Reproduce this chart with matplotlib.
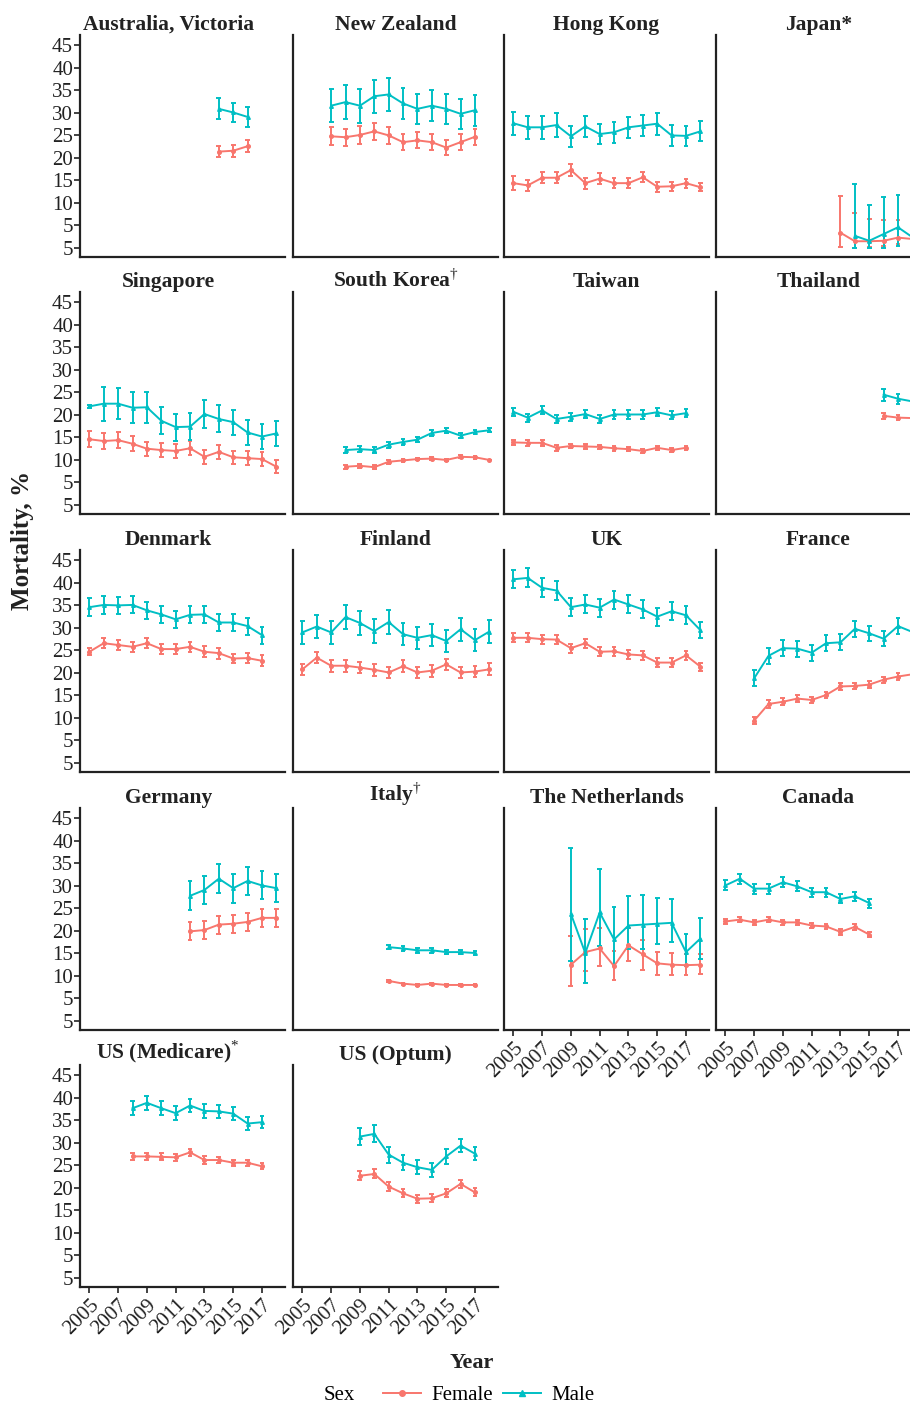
import matplotlib
matplotlib.use('Agg')
import matplotlib.pyplot as plt
from matplotlib.lines import Line2D
from matplotlib.offsetbox import HPacker

plt.rcParams['font.family'] = ['Liberation Serif', 'DejaVu Serif']
plt.rcParams['mathtext.fontset'] = 'custom'
plt.rcParams['mathtext.rm'] = 'Liberation Serif'
plt.rcParams['mathtext.bf'] = 'Liberation Serif:bold'

FEMALE = '#F8766D'
MALE = '#00BFC4'
INK = '#222222'

# ---- data: mortality (%) by year, value and half-width of the error bar ----
aus_start = 2014
aus_f = [21.4, 21.6, 22.6]
aus_f_err = [1.3, 1.3, 1.3]
aus_m = [30.9, 30.1, 29.1]
aus_m_err = [2.3, 2.2, 2.2]

nz_start = 2007
nz_f = [24.8, 24.6, 25.1, 25.9, 25.0, 23.5, 23.9, 23.5, 22.3, 23.5, 24.7]
nz_f_err = [2.0, 1.9, 2.0, 1.9, 1.9, 1.8, 1.8, 1.8, 1.7, 1.8, 1.8]
nz_m = [31.6, 32.4, 31.6, 33.7, 34.1, 32.1, 30.9, 31.6, 30.9, 29.8, 30.6]
nz_m_err = [3.7, 3.8, 3.8, 3.7, 3.6, 3.5, 3.4, 3.5, 3.4, 3.3, 3.4]

hk_start = 2005
hk_f = [14.4, 13.9, 15.6, 15.6, 17.3, 14.4, 15.4, 14.4, 14.4, 15.7, 13.6, 13.7, 14.4, 13.5]
hk_f_err = [1.5, 1.2, 1.2, 1.2, 1.3, 1.2, 1.2, 1.1, 1.1, 1.1, 1.1, 1.0, 1.0, 0.9]
hk_m = [27.7, 26.8, 26.8, 27.3, 24.8, 27.0, 25.3, 25.7, 26.8, 27.2, 27.6, 25.0, 24.9, 25.9]
hk_m_err = [2.6, 2.6, 2.5, 2.6, 2.3, 2.3, 2.3, 2.3, 2.3, 2.3, 2.4, 2.3, 2.2, 2.2]

# Japan: asymmetric intervals (lower, upper bounds)
jp_f_start = 2013
jp_f = [3.4, 1.5, 1.5, 1.6, 2.3, 2.0]
jp_f_lo = [0.3, 0.0, 0.2, 0.4, 0.9, 0.5]
jp_f_hi = [11.6, 7.8, 6.5, 6.2, 6.2, 5.5]
jp_m_start = 2014
jp_m = [2.7, 1.6, 3.1, 4.6, 2.4]
jp_m_lo = [0.0, 0.0, 0.0, 0.5, 0.3]
jp_m_hi = [14.2, 9.6, 11.3, 11.7, 8.0]

sg_start = 2005
sg_f = [14.6, 14.2, 14.4, 13.6, 12.5, 12.2, 12.0, 12.6, 10.7, 11.8, 10.6, 10.4, 10.2, 8.5]
sg_f_err = [1.8, 1.8, 1.8, 1.7, 1.6, 1.6, 1.6, 1.6, 1.5, 1.6, 1.5, 1.5, 1.5, 1.4]
sg_m = [21.9, 22.5, 22.5, 21.6, 21.7, 18.7, 17.3, 17.4, 20.2, 19.1, 18.4, 16.1, 15.2, 15.9]
sg_m_err = [0.3, 3.8, 3.5, 3.5, 3.5, 3.0, 3.0, 3.0, 3.2, 3.0, 2.8, 2.8, 2.8, 2.8]

kr_start = 2008
kr_f = [8.5, 8.7, 8.4, 9.6, 9.9, 10.2, 10.3, 10.0, 10.7, 10.6, 10.0]
kr_f_err = [0.4, 0.4, 0.4, 0.4, 0.3, 0.3, 0.3, 0.3, 0.3, 0.3, 0.1]
kr_m = [12.2, 12.4, 12.2, 13.4, 14.0, 14.5, 16.0, 16.5, 15.4, 16.2, 16.6]
kr_m_err = [0.7, 0.7, 0.7, 0.7, 0.7, 0.6, 0.6, 0.6, 0.5, 0.5, 0.4]

tw_start = 2005
tw_f = [13.9, 13.8, 13.8, 12.7, 13.1, 13.0, 12.9, 12.6, 12.4, 12.0, 12.7, 12.2, 12.7]
tw_f_err = [0.5, 0.6, 0.6, 0.6, 0.5, 0.5, 0.5, 0.5, 0.5, 0.5, 0.5, 0.5, 0.5]
tw_m = [20.7, 19.4, 21.0, 19.1, 19.6, 20.2, 19.1, 20.1, 20.1, 20.1, 20.6, 19.9, 20.4]
tw_m_err = [0.9, 0.9, 0.9, 0.9, 0.9, 0.9, 0.9, 0.9, 0.9, 0.9, 0.9, 0.9, 0.9]

th_start = 2016
th_f = [19.8, 19.4, 19.3]
th_f_err = [0.7, 0.6, 0.6]
th_m = [24.5, 23.6, 23.0]
th_m_err = [1.3, 1.1, 1.0]

dk_start = 2005
dk_f = [24.7, 26.6, 26.2, 25.8, 26.6, 25.3, 25.3, 25.8, 24.7, 24.4, 23.2, 23.3, 22.7]
dk_f_err = [0.8, 1.1, 1.1, 1.1, 1.1, 1.1, 1.1, 1.1, 1.2, 1.2, 1.1, 1.1, 1.2]
dk_m = [34.6, 35.1, 35.0, 35.1, 33.9, 33.0, 31.9, 32.9, 33.0, 31.2, 31.2, 30.4, 28.4]
dk_m_err = [2.0, 2.0, 1.9, 1.9, 1.9, 1.9, 1.9, 1.9, 1.9, 1.9, 1.9, 1.9, 1.9]

fi_start = 2005
fi_f = [20.8, 23.4, 21.6, 21.6, 21.2, 20.7, 20.1, 21.5, 20.1, 20.5, 21.9, 20.1, 20.3, 20.8]
fi_f_err = [1.2, 1.3, 1.3, 1.3, 1.3, 1.3, 1.3, 1.3, 1.3, 1.3, 1.3, 1.3, 1.3, 1.3]
fi_m = [29.0, 30.3, 29.0, 32.4, 31.1, 29.3, 31.3, 28.6, 27.8, 28.4, 27.1, 29.7, 27.3, 29.2]
fi_m_err = [2.5, 2.6, 2.6, 2.7, 2.6, 2.6, 2.6, 2.5, 2.5, 2.5, 2.4, 2.5, 2.5, 2.5]

uk_start = 2005
uk_f = [27.8, 27.8, 27.5, 27.4, 25.5, 26.6, 24.7, 24.8, 24.1, 23.9, 22.3, 22.3, 23.9, 21.4]
uk_f_err = [1.0, 1.0, 1.0, 1.0, 1.0, 1.0, 1.0, 1.0, 1.0, 1.0, 1.0, 1.0, 1.0, 0.9]
uk_m = [40.8, 41.1, 38.9, 38.3, 34.6, 35.2, 34.5, 36.3, 35.2, 34.1, 32.5, 33.7, 32.8, 29.5]
uk_m_err = [2.0, 2.1, 2.1, 2.1, 2.0, 2.0, 2.0, 2.0, 2.0, 2.0, 2.0, 2.0, 2.0, 1.8]

fr_start = 2007
fr_f = [9.4, 13.1, 13.6, 14.3, 14.0, 15.1, 17.0, 17.1, 17.4, 18.5, 19.2, 19.7]
fr_f_err = [0.8, 0.8, 0.8, 0.7, 0.7, 0.7, 0.7, 0.7, 0.7, 0.7, 0.7, 0.7]
fr_m = [18.8, 23.8, 25.5, 25.4, 24.5, 26.6, 26.8, 29.8, 28.8, 27.6, 30.4, 29.1]
fr_m_err = [1.8, 1.8, 1.8, 1.8, 1.8, 1.8, 1.8, 1.8, 1.7, 1.7, 1.7, 1.7]

de_start = 2012
de_f = [19.9, 20.2, 21.4, 21.6, 22.0, 22.9, 22.9]
de_f_err = [2.0, 2.0, 2.0, 2.0, 2.0, 2.0, 2.0]
de_m = [27.8, 29.1, 31.6, 29.5, 31.1, 30.1, 29.5]
de_m_err = [3.2, 3.2, 3.2, 3.2, 3.1, 3.1, 3.1]

it_start = 2011
it_f = [8.9, 8.3, 8.0, 8.3, 8.0, 8.0, 8.0]
it_f_err = [0.2, 0.2, 0.2, 0.2, 0.2, 0.2, 0.2]
it_m = [16.4, 16.1, 15.7, 15.7, 15.3, 15.3, 15.1]
it_m_err = [0.5, 0.5, 0.5, 0.5, 0.5, 0.5, 0.5]

# The Netherlands: asymmetric intervals (lower, upper bounds)
nl_start = 2009
nl_f = [12.5, 15.3, 16.1, 12.2, 16.8, 14.8, 12.8, 12.5, 12.4, 12.5]
nl_f_lo = [7.7, 11.1, 12.2, 9.1, 13.3, 11.4, 10.3, 10.2, 10.3, 10.4]
nl_f_hi = [18.8, 20.4, 20.7, 15.5, 20.7, 17.9, 15.3, 15.0, 14.8, 14.8]
nl_m = [23.8, 15.1, 24.1, 18.1, 21.2, 21.4, 21.6, 21.8, 15.3, 18.3]
nl_m_lo = [13.3, 8.5, 16.6, 12.2, 15.9, 15.9, 17.0, 17.5, 12.3, 13.7]
nl_m_hi = [38.5, 22.6, 33.7, 25.3, 27.7, 28.0, 27.3, 27.1, 19.3, 22.9]

ca_start = 2005
ca_f = [22.1, 22.5, 21.9, 22.5, 21.9, 21.9, 21.2, 21.0, 19.8, 20.9, 19.2]
ca_f_err = [0.6, 0.6, 0.6, 0.6, 0.6, 0.6, 0.6, 0.6, 0.6, 0.6, 0.6]
ca_m = [30.1, 31.6, 29.4, 29.4, 30.8, 29.9, 28.6, 28.6, 27.1, 27.7, 26.2]
ca_m_err = [1.1, 1.1, 1.1, 1.1, 1.1, 1.1, 1.0, 1.0, 1.0, 1.0, 1.0]

usm_start = 2008
usm_f = [27.0, 27.0, 26.9, 26.8, 27.9, 26.2, 26.2, 25.6, 25.6, 24.8]
usm_f_err = [0.8, 0.8, 0.8, 0.8, 0.8, 0.8, 0.7, 0.7, 0.7, 0.7]
usm_m = [37.7, 38.9, 37.7, 36.6, 38.3, 37.1, 37.0, 36.5, 34.3, 34.6]
usm_m_err = [1.5, 1.5, 1.5, 1.5, 1.5, 1.5, 1.5, 1.5, 1.4, 1.3]

uso_start = 2009
uso_f = [22.7, 23.1, 20.3, 18.8, 17.6, 17.7, 18.8, 20.9, 19.0]
uso_f_err = [1.0, 1.0, 1.0, 0.9, 0.9, 0.9, 0.9, 0.9, 0.9]
uso_m = [31.4, 32.0, 27.4, 25.6, 24.6, 24.0, 27.0, 29.4, 27.6]
uso_m_err = [1.9, 1.9, 1.8, 1.7, 1.6, 1.6, 1.6, 1.5, 1.4]

y_ticks = [0, 5, 10, 15, 20, 25, 30, 35, 40, 45]
y_tick_labels = ['5', '5', '10', '15', '20', '25', '30', '35', '40', '45']
x_ticks = [2005, 2007, 2009, 2011, 2013, 2015, 2017]


def sym(vals, err):
    return [v - e for v, e in zip(vals, err)], [v + e for v, e in zip(vals, err)]


panels = [
    # title, row, col, female (start, vals, lo, hi), male (start, vals, lo, hi)
    ('Australia, Victoria', 0, 0, (aus_start, aus_f, *sym(aus_f, aus_f_err)), (aus_start, aus_m, *sym(aus_m, aus_m_err))),
    ('New Zealand', 0, 1, (nz_start, nz_f, *sym(nz_f, nz_f_err)), (nz_start, nz_m, *sym(nz_m, nz_m_err))),
    ('Hong Kong', 0, 2, (hk_start, hk_f, *sym(hk_f, hk_f_err)), (hk_start, hk_m, *sym(hk_m, hk_m_err))),
    ('Japan*', 0, 3, (jp_f_start, jp_f, jp_f_lo, jp_f_hi), (jp_m_start, jp_m, jp_m_lo, jp_m_hi)),
    ('Singapore', 1, 0, (sg_start, sg_f, *sym(sg_f, sg_f_err)), (sg_start, sg_m, *sym(sg_m, sg_m_err))),
    ('South Korea$^{\u2020}$', 1, 1, (kr_start, kr_f, *sym(kr_f, kr_f_err)), (kr_start, kr_m, *sym(kr_m, kr_m_err))),
    ('Taiwan', 1, 2, (tw_start, tw_f, *sym(tw_f, tw_f_err)), (tw_start, tw_m, *sym(tw_m, tw_m_err))),
    ('Thailand', 1, 3, (th_start, th_f, *sym(th_f, th_f_err)), (th_start, th_m, *sym(th_m, th_m_err))),
    ('Denmark', 2, 0, (dk_start, dk_f, *sym(dk_f, dk_f_err)), (dk_start, dk_m, *sym(dk_m, dk_m_err))),
    ('Finland', 2, 1, (fi_start, fi_f, *sym(fi_f, fi_f_err)), (fi_start, fi_m, *sym(fi_m, fi_m_err))),
    ('UK', 2, 2, (uk_start, uk_f, *sym(uk_f, uk_f_err)), (uk_start, uk_m, *sym(uk_m, uk_m_err))),
    ('France', 2, 3, (fr_start, fr_f, *sym(fr_f, fr_f_err)), (fr_start, fr_m, *sym(fr_m, fr_m_err))),
    ('Germany', 3, 0, (de_start, de_f, *sym(de_f, de_f_err)), (de_start, de_m, *sym(de_m, de_m_err))),
    ('Italy$^{\u2020}$', 3, 1, (it_start, it_f, *sym(it_f, it_f_err)), (it_start, it_m, *sym(it_m, it_m_err))),
    ('The Netherlands', 3, 2, (nl_start, nl_f, nl_f_lo, nl_f_hi), (nl_start, nl_m, nl_m_lo, nl_m_hi)),
    ('Canada', 3, 3, (ca_start, ca_f, *sym(ca_f, ca_f_err)), (ca_start, ca_m, *sym(ca_m, ca_m_err))),
    ('US (Medicare)$^{*}$', 4, 0, (usm_start, usm_f, *sym(usm_f, usm_f_err)), (usm_start, usm_m, *sym(usm_m, usm_m_err))),
    ('US (Optum)', 4, 1, (uso_start, uso_f, *sym(uso_f, uso_f_err)), (uso_start, uso_m, *sym(uso_m, uso_m_err))),
]
bottom_panels = {(4, 0), (4, 1), (3, 2), (3, 3)}

W, H = 910, 1406
fig = plt.figure(figsize=(W / 100, H / 100), dpi=100)

col_left = [80, 293, 504, 716]
row_top = [35, 292, 550, 808, 1065]
ax_w, ax_h = 205, 222


def draw(ax, series, color, marker):
    start, vals, lo, hi = series
    yrs = list(range(start, start + len(vals)))
    ax.plot(yrs, vals, color=color, lw=1.4, marker=marker, ms=2.6, zorder=3)
    ax.vlines(yrs, lo, hi, color=color, lw=1.4, zorder=2)
    ax.hlines(lo, [x - 0.17 for x in yrs], [x + 0.17 for x in yrs], color=color, lw=1.4, zorder=2)
    ax.hlines(hi, [x - 0.17 for x in yrs], [x + 0.17 for x in yrs], color=color, lw=1.4, zorder=2)


for title, r, c, fem, mal in panels:
    ax = fig.add_axes([col_left[c] / W, 1 - (row_top[r] + ax_h) / H, ax_w / W, ax_h / H])
    ax.patch.set_visible(False)  # so rotated labels of the row above are not hidden
    draw(ax, fem, FEMALE, 'o')
    draw(ax, mal, MALE, '^')
    ax.set_xlim(2004.35, 2018.6)
    ax.set_ylim(-2.0, 47.3)
    for s in ('top', 'right'):
        ax.spines[s].set_visible(False)
    for s in ('left', 'bottom'):
        ax.spines[s].set_color(INK)
        ax.spines[s].set_linewidth(1.6)
    ax.set_yticks(y_ticks)
    ax.set_xticks(x_ticks)
    if c == 0:
        ax.set_yticklabels(y_tick_labels, fontsize=15, color=INK)
        ax.tick_params(axis='y', length=4, width=1.2, color=INK, pad=1)
    else:
        ax.tick_params(axis='y', length=0, labelleft=False)
    if (r, c) in bottom_panels:
        ax.set_xticklabels([str(x) for x in x_ticks], rotation=45, ha='right',
                           rotation_mode='anchor', fontsize=15, color=INK)
        ax.tick_params(axis='x', length=4, width=1.2, color=INK, pad=2)
    else:
        ax.tick_params(axis='x', length=0, labelbottom=False)
    t = ax.set_title(title, fontsize=15.5, fontweight='bold', color=INK, pad=3)
    if c == 0:
        t.set_x(0.43)

fig.text(22 / W, 1 - 540 / H, 'Mortality, %', rotation=90, ha='center', va='center',
         fontsize=18, fontweight='bold', color=INK)
fig.text(472 / W, 1 - 1363 / H, 'Year', ha='center', va='center',
         fontsize=16, fontweight='bold', color=INK)

handles = [Line2D([], [], color=FEMALE, marker='o', ms=4, lw=1.4),
           Line2D([], [], color=MALE, marker='^', ms=4, lw=1.4)]
leg = fig.legend(handles, ['Female', 'Male'], title='Sex', loc='center',
                 bbox_to_anchor=(459 / W, 1 - 1395 / H), ncol=2, frameon=False,
                 fontsize=15, title_fontsize=15, handlelength=1.8, columnspacing=0.5,
                 handletextpad=0.5)
# put the title on the same line as the entries
box = leg._legend_box
box._children = [HPacker(children=box.get_children(), align='center', pad=0, sep=20)]
box.__class__ = HPacker
box.sep = 20
box.align = 'center'

fig.savefig('out.png', dpi=100)
